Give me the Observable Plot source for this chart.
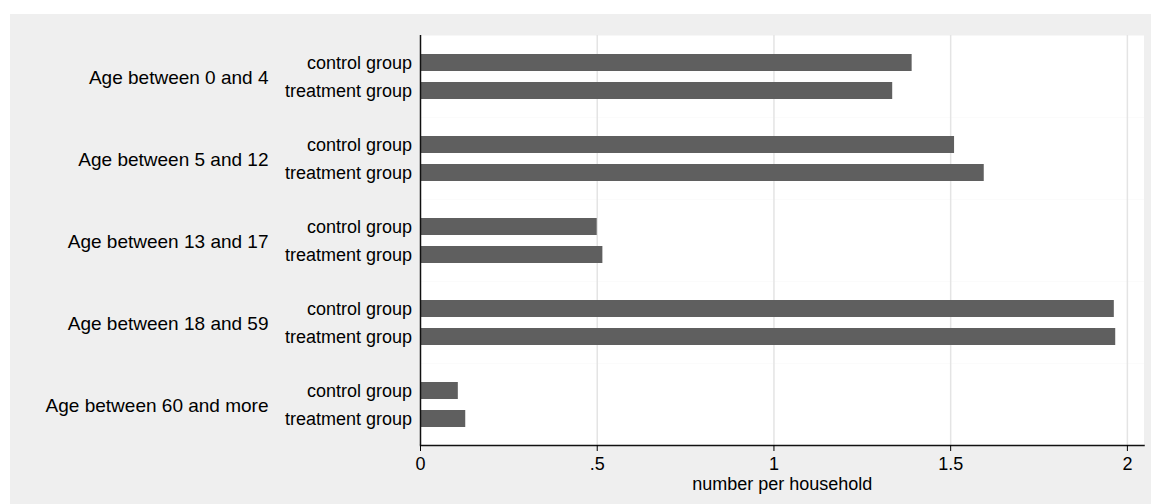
<!DOCTYPE html>
<html>
<head>
<meta charset="utf-8">
<script src="https://cdn.jsdelivr.net/npm/d3@7"></script>
<script src="https://cdn.jsdelivr.net/npm/@observablehq/plot@0.6"></script>
<style>
  html, body { margin: 0; padding: 0; background: #ffffff; }
  #chart { padding: 14px 0 0 10px; }
  #chart svg { display: block; }
</style>
</head>
<body>
<div id="chart"></div>
<script>
const ageGroups = [
  "Age between 0 and 4",
  "Age between 5 and 12",
  "Age between 13 and 17",
  "Age between 18 and 59",
  "Age between 60 and more"
];
const groups = ["control group", "treatment group"];
const controlValues = [1.391, 1.511, 0.500, 1.963, 0.107];
const treatmentValues = [1.336, 1.595, 0.516, 1.967, 0.128];
const xTicks = [0, 0.5, 1, 1.5, 2];
const xTickLabels = ["0", ".5", "1", "1.5", "2"];
const xLabel = "number per household";

const rows = [];
ageGroups.forEach((age, i) => {
  rows.push({age, group: groups[0], value: controlValues[i]});
  rows.push({age, group: groups[1], value: treatmentValues[i]});
});

const chart = Plot.plot({
  width: 1141,
  height: 490,
  marginLeft: 410,
  marginRight: 7.5,
  marginTop: 20,
  marginBottom: 58,
  style: {background: "#efefef", fontFamily: "'Liberation Sans', Arial, sans-serif", color: "#000", overflow: "visible"},
  x: {domain: [0, 2.047]},
  y: {domain: groups, paddingInner: 0.408, paddingOuter: 0.64},
  fy: {domain: ageGroups, padding: 0},
  marks: [
    Plot.frame({fill: "white", stroke: "none"}),
    Plot.gridX(xTicks.slice(1), {stroke: "#e4e4e4", strokeOpacity: 1, strokeWidth: 1.5}),
    Plot.barX(rows, {x: "value", y: "group", fy: "age", fill: "#5f5f5f"}),
    Plot.ruleX([0], {stroke: "#111", strokeWidth: 1.5}),
    Plot.frame({anchor: "bottom", facetAnchor: "bottom", stroke: "#111", strokeWidth: 1.5}),
    Plot.axisX(xTicks, {
      anchor: "bottom", tickSize: 6, tickPadding: 6, fontSize: 18,
      tickFormat: d => xTickLabels[xTicks.indexOf(d)],
      label: xLabel, labelAnchor: "center", labelArrow: "none", labelOffset: 44,
      style: {letterSpacing: "0.3px"}
    }),
    Plot.axisY({anchor: "left", tickSize: 0, tickPadding: 8.5, fontSize: 18, label: null}),
    Plot.axisFy({anchor: "left", tickSize: 0, tickPadding: 152, fontSize: 19, dy: 1, label: null})
  ]
});
document.getElementById("chart").appendChild(chart);
</script>
</body>
</html>
